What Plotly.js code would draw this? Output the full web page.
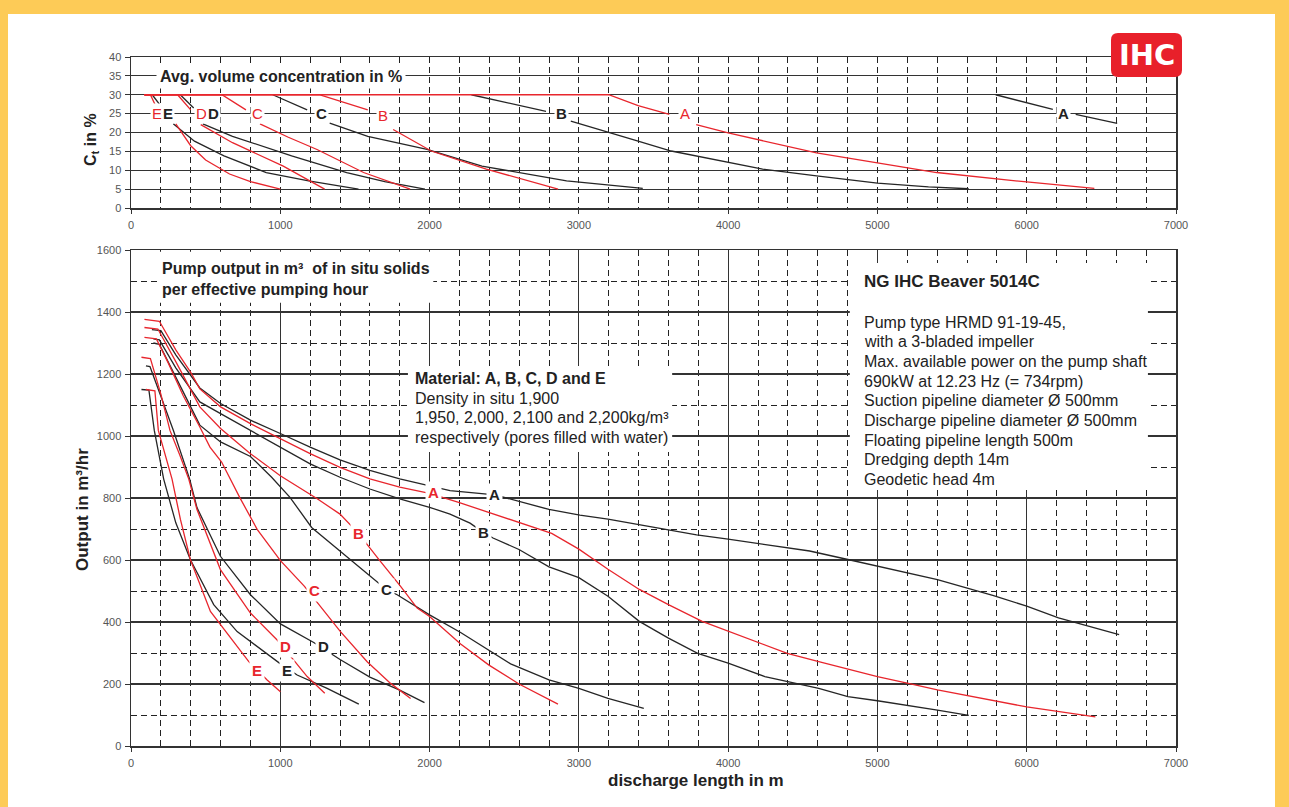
<!DOCTYPE html>
<html><head><meta charset="utf-8">
<script src="https://cdn.plot.ly/plotly-3.0.1.min.js"></script>
<style>
html,body{margin:0;padding:0;background:#FDCB57;width:1289px;height:807px;overflow:hidden;}
#chart{position:absolute;left:8px;top:14px;width:1267px;height:793px;background:#fff;}
</style></head><body><div id="chart"></div>
<script>
// ---------- Top chart: average volume concentration Ct (%) vs discharge length (m) ----------
const ctRedA_x = [90, 3200, 3397, 3606, null, 3786, 4000, 4592, 5000, 5397, 6000, 6453];
const ctRedA_y = [30, 30, 27.1, 24.8, null, 22.1, 19.9, 14.6, 12.0, 9.4, 6.9, 5.2];
const ctBlkA_x = [5792, 6175, null, 6328, 6606];
const ctBlkA_y = [30, 26.1, null, 24.8, 22.4];
const ctRedB_x = [90, 1261, 1586, null, 1756, 2011, 2380, 2861];
const ctRedB_y = [30, 30, 26, null, 20.8, 15.1, 10.3, 5.0];
const ctBlkB_x = [2280, 2780, null, 2946, 3201, 3397, 3619, 4008, 4231, 4592, 5000, 5342, 5611];
const ctBlkB_y = [30, 25.6, null, 23.0, 19.9, 17.7, 15.1, 12.0, 10.3, 8.5, 6.6, 5.6, 5.1];
const ctRedC_x = [90, 609, 770, null, 864, 1050, 1246, 1558, 1870];
const ctRedC_y = [30, 30, 26, null, 22.3, 18.8, 15.5, 9.4, 5.0];
const ctBlkC_x = [949, 1180, null, 1331, 1586, 1983, 2351, 2918, 3428];
const ctBlkC_y = [30, 26, null, 22.5, 19.0, 15.5, 11.1, 7.2, 5.2];
const ctRedD_x = [90, 312, 400, null, 467, 680, 1020, 1150, 1297];
const ctRedD_y = [30, 30, 26, null, 22.1, 17.3, 11.1, 8.2, 5.0];
const ctBlkD_x = [330, 420, null, 481, 680, 1076, 1445, 1700, 1969];
const ctBlkD_y = [30, 26.5, null, 22.3, 19.0, 13.8, 9.4, 7.0, 5.0];
const ctRedE_x = [90, 130, 160, null, 300, 400, 500, 660, 800, 1000];
const ctRedE_y = [30, 30, 27.5, null, 22.3, 16.5, 12.7, 9.0, 7.0, 5.0];
const ctBlkE_x = [142, 190, null, 283, 425, 623, 906, 1190, 1524];
const ctBlkE_y = [30, 27.5, null, 22.3, 17.7, 13.8, 9.4, 7.2, 5.0];

const ctLabelText = ['E', 'E', 'D', 'D', 'C', 'C', 'B', 'B', 'A', 'A'];
const ctLabelSet  = ['red', 'black', 'red', 'black', 'red', 'black', 'red', 'black', 'red', 'black'];
const ctLabelX    = [175, 250, 475, 550, 846, 1273, 1689, 2885, 3710, 6246];
const ctLabelY    = [25, 25, 25, 25, 25, 25, 24.5, 25, 25, 25];

// ---------- Bottom chart: output (m3/hr) vs discharge length (m) ----------
const outRedA_x = [90, 190, 300, 400, 461, 600, 800, 1000, 1200, 1400, 1600, 1800, 2000, 2200, 2400, 2600, 2818, 3000, 3195, 3405, 3600, 3826, 4000, 4396, 4607, 5000, 5207, 5402, 6000, 6408, 6460];
const outRedA_y = [1376, 1370, 1278, 1205, 1152, 1094, 1040, 991, 943, 899, 862, 835, 815, 785, 753, 722, 686, 635, 570, 505, 456, 402, 370, 299, 272, 224, 202, 181, 126, 99, 94];
const outBlkA_x = [140, 200, 300, 400, 461, 600, 800, 1000, 1200, 1400, 1600, 1800, 2000, 2137, 2438, 2800, 3007, 3195, 3600, 3789, 4000, 4546, 4817, 5000, 5402, 5778, 6000, 6213, 6408, 6619];
const outBlkA_y = [1343, 1340, 1262, 1197, 1155, 1105, 1051, 1008, 964, 923, 889, 862, 840, 824, 810, 763, 745, 732, 697, 681, 667, 629, 600, 580, 537, 485, 451, 413, 386, 359];
const outRedB_x = [90, 180, 300, 400, 461, 600, 800, 1000, 1250, 1400, 1525, 1660, 1806, 1917, 2000, 2208, 2398, 2599, 2800, 2860];
const outRedB_y = [1350, 1345, 1240, 1150, 1094, 1024, 943, 872, 797, 748, 685, 602, 515, 445, 418, 329, 261, 200, 148, 135];
const outBlkB_x = [150, 190, 300, 400, 461, 600, 800, 1000, 1200, 1400, 1600, 1800, 2000, 2137, 2271, 2358, 2425, 2599, 2800, 3000, 3195, 3405, 3600, 3796, 4000, 4246, 4396, 4607, 4802, 5000, 5402, 5612];
const outBlkB_y = [1313, 1310, 1220, 1150, 1110, 1072, 1018, 964, 910, 867, 829, 797, 770, 748, 719, 690, 671, 634, 578, 543, 483, 402, 348, 299, 267, 224, 208, 186, 159, 146, 116, 99];
const outRedC_x = [90, 170, 250, 350, 461, 529, 607, 728, 845, 1001, 1162, 1403, 1582, 1739, 1873];
const outRedC_y = [1318, 1313, 1235, 1130, 1029, 964, 916, 802, 699, 598, 515, 369, 272, 202, 153];
const outBlkC_x = [150, 190, 300, 400, 461, 600, 800, 942, 1065, 1210, 1448, 1649, 1712, 1783, 2000, 2208, 2409, 2543, 2800, 3000, 3195, 3435];
const outBlkC_y = [1300, 1296, 1190, 1095, 1035, 981, 934, 867, 802, 705, 610, 528, 504, 488, 423, 366, 305, 265, 213, 186, 154, 121];
const outRedD_x = [70, 130, 200, 261, 330, 387, 442, 599, 800, 979, 1090, 1180, 1298];
const outRedD_y = [1254, 1250, 1135, 1018, 935, 861, 763, 569, 429, 342, 277, 224, 170];
const outBlkD_x = [100, 127, 200, 284, 393, 442, 599, 800, 1001, 1224, 1403, 1600, 1800, 1966];
const outBlkD_y = [1226, 1224, 1128, 1018, 861, 769, 612, 488, 394, 334, 278, 222, 180, 140];
const outRedE_x = [100, 160, 183, 275, 331, 398, 532, 789, 912, 1001];
const outRedE_y = [1150, 1146, 1018, 861, 731, 601, 434, 272, 213, 175];
const outBlkE_x = [70, 120, 156, 219, 300, 398, 554, 711, 990, 1113, 1314, 1526];
const outBlkE_y = [1150, 1148, 1018, 861, 720, 601, 456, 369, 269, 229, 186, 135];

const outLabelText = ['A', 'A', 'B', 'B', 'C', 'C', 'D', 'D', 'E', 'E'];
const outLabelSet  = ['red', 'black', 'red', 'black', 'red', 'black', 'red', 'black', 'red', 'black'];
const outLabelX    = [2029, 2438, 1525, 2362, 1226, 1712, 1033, 1290, 842, 1046];
const outLabelY    = [818, 812, 685, 690, 502, 504, 320, 320, 244, 244];

const xTicks = [0, 1000, 2000, 3000, 4000, 5000, 6000, 7000];

const infoLines = ['Pump type HRMD 91-19-45,', 'with a 3-bladed impeller', 'Max. available power on the pump shaft',
  '690kW at 12.23 Hz (= 734rpm)', 'Suction pipeline diameter \u00D8 500mm', 'Discharge pipeline diameter \u00D8 500mm',
  'Floating pipeline length 500m', 'Dredging depth 14m', 'Geodetic head 4m'];
const materialLines = ['Density in situ 1,900', '1,950, 2,000, 2,100 and 2,200kg/m\u00B3', 'respectively (pores filled with water)'];

// ---------- styling ----------
const RED = '#e8262d', BLK = '#262626';
const FONT = 'Liberation Sans, Arial, Helvetica, sans-serif';
const W = 1267, H = 793, ML = 123, MR = 99, MT = 43, MB = 61;
const PW = W - ML - MR, PH = H - MT - MB;
// page pixel -> paper coordinate (div is offset by 8,14 on the page)
const px = p => (p - 8 - ML) / PW;
const py = p => (H - MB - (p - 14)) / PH;

function line(x, y, color, xa, ya) {
  return {x: x, y: y, xaxis: xa, yaxis: ya, type: 'scatter', mode: 'lines', connectgaps: false,
    hoverinfo: 'skip', showlegend: false, line: {color: color, width: 1.3}};
}
const traces = [
  line(ctBlkA_x, ctBlkA_y, BLK, 'x2', 'y2'), line(ctBlkB_x, ctBlkB_y, BLK, 'x2', 'y2'),
  line(ctBlkC_x, ctBlkC_y, BLK, 'x2', 'y2'), line(ctBlkD_x, ctBlkD_y, BLK, 'x2', 'y2'),
  line(ctBlkE_x, ctBlkE_y, BLK, 'x2', 'y2'),
  line(ctRedA_x, ctRedA_y, RED, 'x2', 'y2'), line(ctRedB_x, ctRedB_y, RED, 'x2', 'y2'),
  line(ctRedC_x, ctRedC_y, RED, 'x2', 'y2'), line(ctRedD_x, ctRedD_y, RED, 'x2', 'y2'),
  line(ctRedE_x, ctRedE_y, RED, 'x2', 'y2'),
  line(outBlkA_x, outBlkA_y, BLK, 'x', 'y'), line(outBlkB_x, outBlkB_y, BLK, 'x', 'y'),
  line(outBlkC_x, outBlkC_y, BLK, 'x', 'y'), line(outBlkD_x, outBlkD_y, BLK, 'x', 'y'),
  line(outBlkE_x, outBlkE_y, BLK, 'x', 'y'),
  line(outRedA_x, outRedA_y, RED, 'x', 'y'), line(outRedB_x, outRedB_y, RED, 'x', 'y'),
  line(outRedC_x, outRedC_y, RED, 'x', 'y'), line(outRedD_x, outRedD_y, RED, 'x', 'y'),
  line(outRedE_x, outRedE_y, RED, 'x', 'y')
];

const tickFont = {family: FONT, size: 11, color: '#555'};
function xAxis(anchor, dashedMajor) {
  return {domain: [0, 1], anchor: anchor, range: [0, 7000], tickmode: 'array', tickvals: xTicks,
    ticktext: xTicks.map(String), showgrid: true, gridcolor: dashedMajor ? '#222' : '#333',
    gridwidth: dashedMajor ? 1 : 1.2, griddash: dashedMajor ? '6px,4px' : 'solid',
    minor: {tickmode: 'linear', tick0: 0, dtick: 200, showgrid: true, gridcolor: '#222', gridwidth: 1, griddash: '6px,4px'},
    ticks: 'outside', ticklen: 4, tickcolor: '#333', tickwidth: 1, showline: true, mirror: true,
    linecolor: '#333', linewidth: 1.5, zeroline: false, tickfont: tickFont, ticklabelstandoff: 2, fixedrange: true};
}
function yAxis(anchor, domain, range, dtick, minorDtick) {
  const a = {domain: domain, anchor: anchor, range: range, tickmode: 'linear', tick0: 0, dtick: dtick,
    showgrid: true, gridcolor: '#333', gridwidth: 1.2, ticks: 'outside', ticklen: 5, tickcolor: '#333',
    tickwidth: 1, showline: true, mirror: true, linecolor: '#333', linewidth: 1.5, zeroline: false,
    tickfont: tickFont, ticklabelstandoff: 1, fixedrange: true};
  if (minorDtick) a.minor = {tickmode: 'linear', tick0: 0, dtick: minorDtick, showgrid: true, gridcolor: '#222', gridwidth: 1, griddash: '6px,4px'};
  return a;
}

const ann = [];
function txt(text, x, y, opts) {
  ann.push(Object.assign({text: text, x: x, y: y, xref: 'paper', yref: 'paper', showarrow: false,
    xanchor: 'left', yanchor: 'middle', align: 'left', font: {family: FONT, size: 16, color: '#222'}}, opts || {}));
}
// curve labels
ctLabelText.forEach((t, i) => {
  const red = ctLabelSet[i] === 'red';
  ann.push({text: red ? t : '<b>' + t + '</b>', x: ctLabelX[i], y: ctLabelY[i], xref: 'x2', yref: 'y2', showarrow: false,
    xanchor: 'center', yanchor: 'middle', bgcolor: '#fff', borderpad: 1,
    font: {family: FONT, size: 15, color: red ? RED : '#222'}});
});
outLabelText.forEach((t, i) => {
  const red = outLabelSet[i] === 'red';
  ann.push({text: '<b>' + t + '</b>', x: outLabelX[i], y: outLabelY[i], xref: 'x', yref: 'y', showarrow: false,
    xanchor: 'center', yanchor: 'middle', bgcolor: '#fff', borderpad: 2,
    font: {family: FONT, size: 15, color: red ? RED : '#222'}});
});
// headings
txt('<b>Avg. volume concentration in %</b>', px(156), py(76), {bgcolor: '#fff', borderpad: 3});
txt('<b>Pump output in m\u00B3  of in situ solids</b>', px(160), py(268));
txt('<b>per effective pumping hour</b>', px(160), py(289));
txt('<b>Material: A, B, C, D and E</b>', px(413), py(378));
materialLines.forEach((t, i) => txt(t, px(413), py(398 + i * 19.7)));
txt('<b>NG IHC Beaver 5014C</b>', px(862), py(281), {font: {family: FONT, size: 17, color: '#222'}});
infoLines.forEach((t, i) => txt(t, px(862), py(322 + i * 19.7)));
// axis titles
txt('<b>C<sub>t</sub> in %</b>', px(91), py(140), {xanchor: 'center', textangle: -90, font: {family: FONT, size: 16, color: '#222'}});
txt('<b>Output in m\u00B3/hr</b>', px(83), py(510), {xanchor: 'center', textangle: -90, font: {family: FONT, size: 17, color: '#222'}});
txt('<b>discharge length in m</b>', px(696), py(780), {xanchor: 'center', font: {family: FONT, size: 17, color: '#222'}});
// IHC logo text
txt('<b>IHC</b>', px(1146.5), py(55.5), {xanchor: 'center', font: {family: 'DejaVu Sans, sans-serif', size: 29, color: '#fff'}});

// white boxes behind the text blocks and the logo
const x0 = px(1111), x1 = px(1182), yT = py(33), yB = py(77);
const rx = 7 / PW, ry = 7 / PH;
const logoPath = `M ${x0 + rx},${yT} L ${x1 - rx},${yT} Q ${x1},${yT} ${x1},${yT - ry} L ${x1},${yB + ry} Q ${x1},${yB} ${x1 - rx},${yB} ` +
  `L ${x0 + rx},${yB} Q ${x0},${yB} ${x0},${yB + ry} L ${x0},${yT - ry} Q ${x0},${yT} ${x0 + rx},${yT} Z`;
const shapes = [
  {type: 'rect', xref: 'x', yref: 'y', x0: 175, x1: 2025, y0: 1430, y1: 1594, fillcolor: '#fff', line: {width: 0}, layer: 'above'},
  {type: 'rect', xref: 'x', yref: 'y', x0: 1855, x1: 3625, y0: 948, y1: 1226, fillcolor: '#fff', line: {width: 0}, layer: 'above'},
  {type: 'rect', xref: 'x', yref: 'y', x0: 4815, x1: 6812, y0: 826, y1: 1558, fillcolor: '#fff', line: {width: 0}, layer: 'above'},
  {type: 'path', xref: 'paper', yref: 'paper', path: logoPath, fillcolor: '#e8202a', line: {width: 0}, layer: 'above'}
];

const layout = {
  width: W, height: H, margin: {l: ML, r: MR, t: MT, b: MB, pad: 0},
  paper_bgcolor: '#fff', plot_bgcolor: '#fff', showlegend: false,
  font: {family: FONT},
  xaxis: xAxis('y', false),
  yaxis: yAxis('x', [0, (746 - 250) / PH], [0, 1600], 200, 100),
  xaxis2: xAxis('y2', true),
  yaxis2: yAxis('x2', [(746 - 208) / PH, 1], [0, 40], 5, null),
  annotations: ann, shapes: shapes
};
Plotly.newPlot('chart', traces, layout, {staticPlot: true, displayModeBar: false});
</script></body></html>
